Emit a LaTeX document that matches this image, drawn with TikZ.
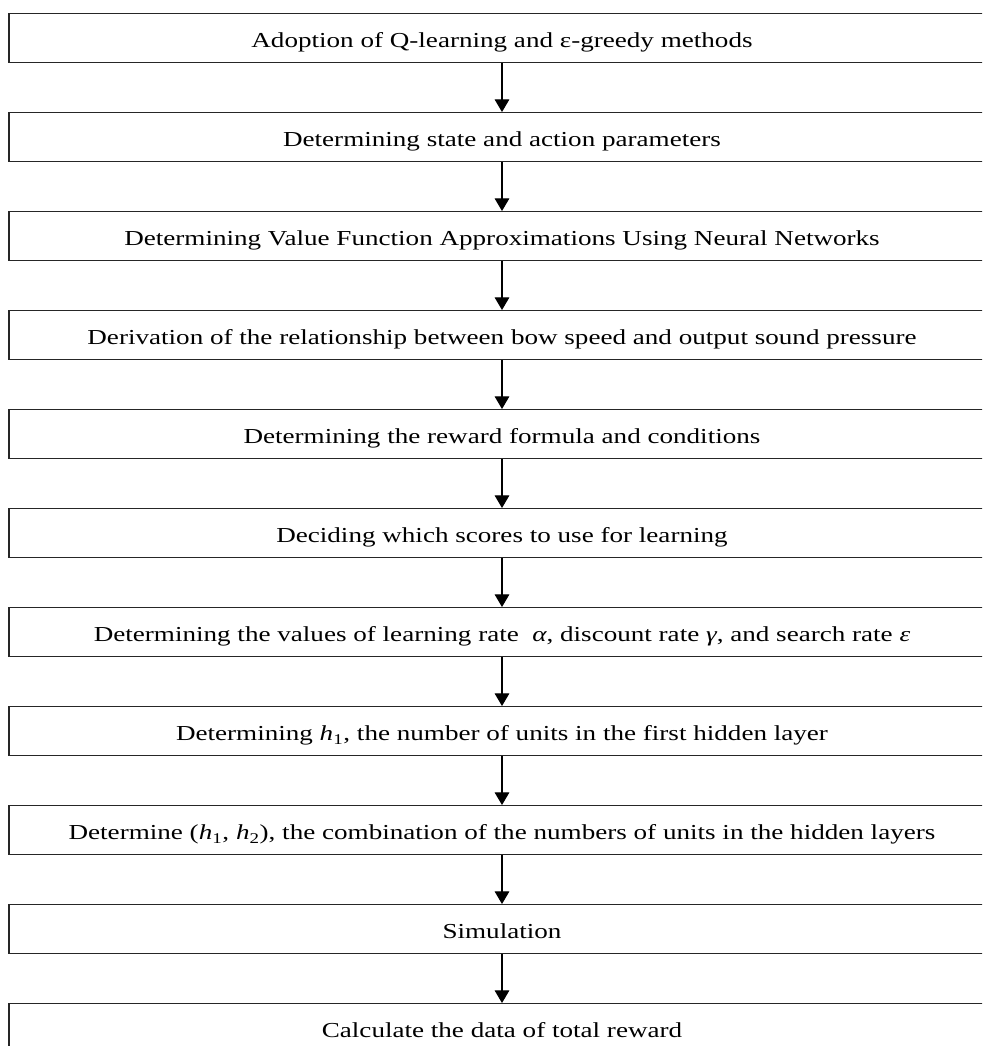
\documentclass[tikz,border=0pt]{standalone}
\usepackage{fontspec}
\setmainfont[FakeStretch=1.27]{Liberation Serif}
\usetikzlibrary{arrows.meta}
\tikzset{
  stepbox/.style={draw=black!85, line width=1.1pt, fill=white, minimum width=739.5pt, minimum height=36.75pt, inner sep=0pt, text height=14.2pt, text depth=0pt, font=\fontsize{16pt}{19pt}\selectfont, anchor=north},
  flow/.style={draw=black, line width=0.8pt, -{Triangle[width=11pt,length=9.5pt]}}
}
\newcommand{\mi}[1]{\textit{#1}}
\begin{document}
\begin{tikzpicture}[x=0.75pt,y=-0.75pt]
\useasboundingbox (0,0) rectangle (982,1046);
\clip (0,0) rectangle (982,1046);
\node[stepbox] (b1) at (502,13) {Adoption of Q-learning and ε-greedy methods};
\node[stepbox] (b2) at (502,112) {Determining state and action parameters};
\node[stepbox] (b3) at (502,211) {Determining Value Function Approximations Using Neural Networks};
\node[stepbox] (b4) at (502,310) {Derivation of the relationship between bow speed and output sound pressure};
\node[stepbox] (b5) at (502,409) {Determining the reward formula and conditions};
\node[stepbox] (b6) at (502,508) {Deciding which scores to use for learning};
\node[stepbox] (b7) at (502,607) {Determining the values of learning rate \ \mi{α}, discount rate \mi{γ}, and search rate \mi{ε}};
\node[stepbox] (b8) at (502,706) {Determining \mi{h}\textsubscript{1}, the number of units in the first hidden layer};
\node[stepbox] (b9) at (502,805) {Determine (\mi{h}\textsubscript{1}, \mi{h}\textsubscript{2}), the combination of the numbers of units in the hidden layers};
\node[stepbox] (b10) at (502,904) {Simulation};
\node[stepbox] (b11) at (502,1003) {Calculate the data of total reward};
\foreach \a/\b in {b1/b2,b2/b3,b3/b4,b4/b5,b5/b6,b6/b7,b7/b8,b8/b9,b9/b10,b10/b11}
  \draw[flow] (\a.south) -- (\b.north);
\end{tikzpicture}
\end{document}
